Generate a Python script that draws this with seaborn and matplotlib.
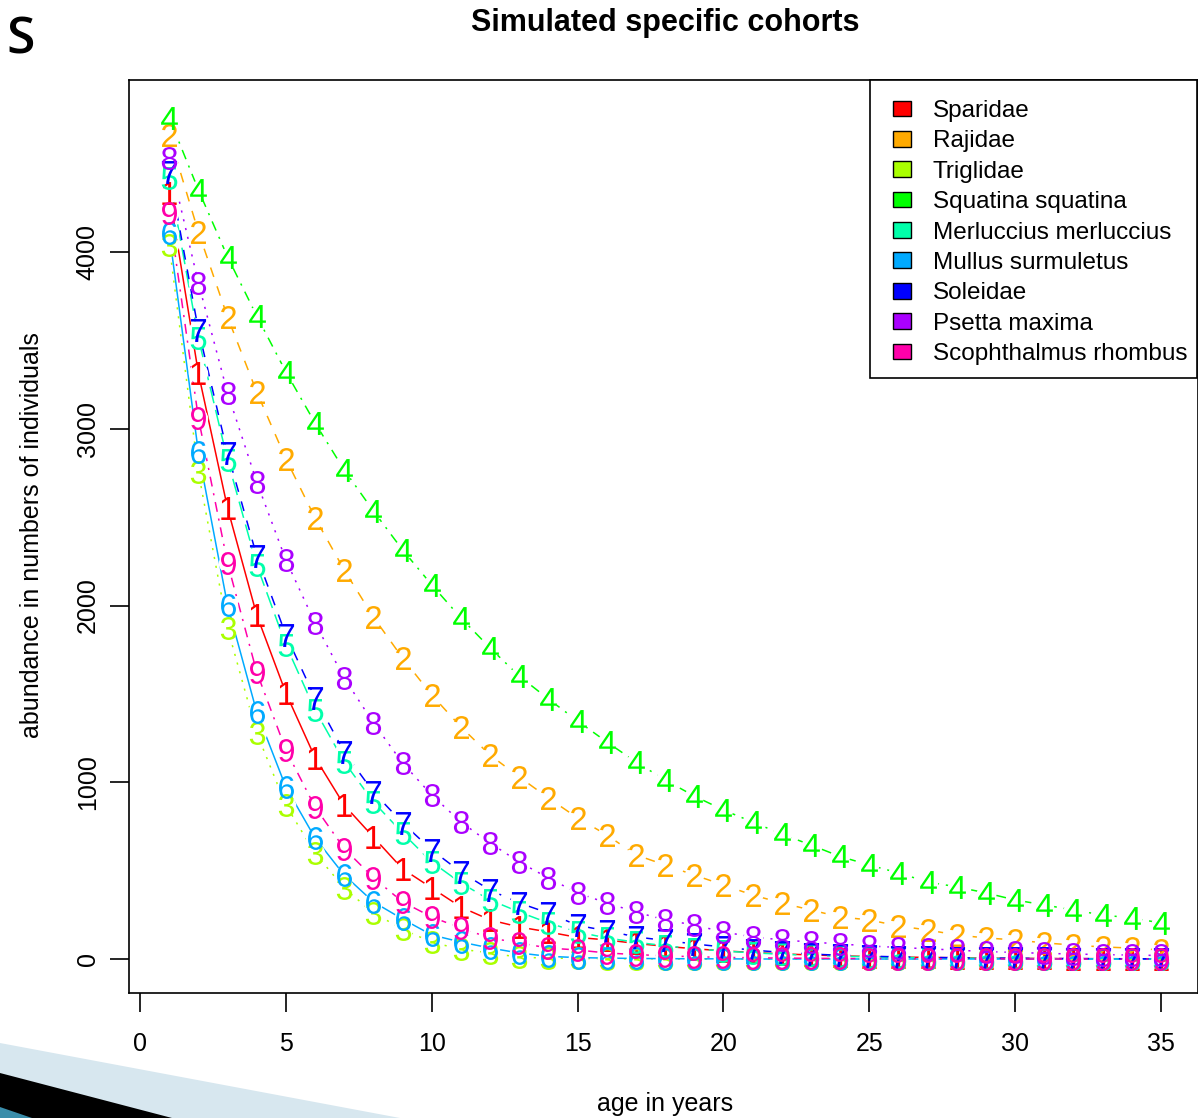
import matplotlib
matplotlib.use("Agg")
import matplotlib.pyplot as plt
import seaborn as sns
import pandas as pd
from matplotlib.patches import Patch, Polygon, Rectangle

# ---------------- data ----------------
ages = list(range(1, 36))
species = ["Sparidae", "Rajidae", "Triglidae", "Squatina squatina",
           "Merluccius merluccius", "Mullus surmuletus", "Soleidae",
           "Psetta maxima", "Scophthalmus rhombus"]
codes = ["1", "2", "3", "4", "5", "6", "7", "8", "9"]

sparidae = [4335, 3316, 2552, 1947, 1505, 1140, 871, 690, 510, 402, 294, 221, 181, 153, 122,
            108, 88, 72, 58, 46, 37, 29, 23, 18, 14, 11, 9, 7, 5, 4, 3, 2, 2, 1, 1]
rajidae = [4663, 4114, 3633, 3209, 2830, 2496, 2201, 1935, 1703, 1494, 1313, 1154, 1030, 911, 798,
           702, 589, 532, 475, 419, 362, 317, 277, 238, 221, 187, 164, 136, 119, 108, 91, 79, 68, 62, 51]
triglidae = [4041, 2756, 1873, 1279, 871, 598, 402, 260, 170, 94, 56, 34, 10, 5, 3, 2, 1, 1,
             0, 0, 0, 0, 0, 0, 0, 0, 0, 0, 0, 0, 0, 0, 0, 0, 0]
squatina = [4760, 4352, 3973, 3639, 3322, 3033, 2767, 2535, 2315, 2117, 1930, 1760, 1601, 1471, 1347,
            1228, 1115, 1013, 922, 843, 775, 707, 645, 580, 532, 487, 436, 408, 374, 334, 306, 277, 249, 232, 204]
merluccius = [4420, 3514, 2824, 2230, 1777, 1409, 1115, 889, 713, 549, 430, 334, 266, 204, 153,
              119, 95, 75, 58, 45, 35, 27, 21, 16, 12, 9, 7, 5, 4, 3, 2, 2, 1, 1, 1]
mullus = [4108, 2869, 2003, 1398, 973, 685, 475, 323, 226, 136, 96, 62, 34, 15, 8, 5, 3, 2, 1, 1,
          0, 0, 0, 0, 0, 0, 0, 0, 0, 0, 0, 0, 0, 0, 0]
soleidae = [4454, 3560, 2864, 2281, 1834, 1477, 1171, 945, 770, 617, 492, 390, 317, 260, 190,
            160, 125, 105, 85, 68, 50, 38, 28, 21, 16, 12, 9, 7, 5, 4, 3, 2, 2, 1, 1]
psetta = [4533, 3826, 3203, 2700, 2258, 1901, 1590, 1336, 1109, 928, 775, 656, 549, 458, 374,
          317, 266, 221, 192, 153, 125, 108, 96, 85, 74, 65, 58, 50, 42, 37, 32, 28, 25, 22, 20]
scophthalmus = [4222, 3062, 2241, 1624, 1183, 860, 625, 460, 323, 238, 175, 119, 91, 62, 51,
                34, 25, 18, 13, 9, 7, 5, 4, 3, 2, 2, 1, 1, 1, 0, 0, 0, 0, 0, 0]

series = [sparidae, rajidae, triglidae, squatina, merluccius, mullus, soleidae, psetta, scophthalmus]
x_ticks = [0, 5, 10, 15, 20, 25, 30, 35]
y_ticks = [0, 1000, 2000, 3000, 4000]

# ---------------- style ----------------
colors = ["#FF0000", "#FFAA00", "#AAFF00", "#00FF00", "#00FFAA",
          "#00AAFF", "#0000FF", "#AA00FF", "#FF00AA"]
lw = 1.1
ltys = ["-", (0, (6.5, 6.5)), (0, (1.4, 4.5)), (0, (1.4, 4.5, 6.5, 4.5)), (0, (11, 4.5))]
msize = 16.5

sns.set_theme(style="ticks")
plt.rcParams["font.family"] = ["Liberation Sans", "DejaVu Sans"]
plt.rcParams["mathtext.fontset"] = "custom"
plt.rcParams["mathtext.rm"] = "Liberation Sans"
plt.rcParams["mathtext.it"] = "Liberation Sans:italic"
plt.rcParams["mathtext.bf"] = "Liberation Sans:bold"
for k in ["text.color", "axes.labelcolor", "xtick.color", "ytick.color", "axes.edgecolor"]:
    plt.rcParams[k] = "black"

W, H = 1198, 1118
fig = plt.figure(figsize=(W / 100, H / 100), dpi=100)
fig.patch.set_facecolor("white")

# decorative slide elements (bottom-left swoosh)
def px(x, y):
    return (x / W, 1 - y / H)

fig.patches.append(Polygon([px(0, 1043), px(400, 1118), px(0, 1118)], closed=True,
                           transform=fig.transFigure, facecolor="#D7E7EF", edgecolor="none", zorder=0))
fig.patches.append(Polygon([px(0, 1073), px(172, 1118), px(0, 1118)], closed=True,
                           transform=fig.transFigure, facecolor="#000000", edgecolor="none", zorder=0))
fig.patches.append(Polygon([px(0, 1107), px(32, 1118), px(0, 1118)], closed=True,
                           transform=fig.transFigure, facecolor="#3A8DAA", edgecolor="none", zorder=0))
fig.text(6 / W, 1 - 41 / H, "S", fontsize=37, family="Open Sans", fontweight="semibold",
         va="center", ha="left", color="black")

ax_left, ax_right, ax_top, ax_bot = 129, 1198, 80, 993
AW, AH = ax_right - ax_left, ax_bot - ax_top
ax = fig.add_axes([ax_left / W, 1 - ax_bot / H, AW / W, AH / H])
ax.set_facecolor("none")

ppu = (1161 - 140) / 35.0
ax.set_xlim((ax_left - 140) / ppu, (ax_right - 140) / ppu)
ypp = (959 - 252) / 4000.0
ax.set_ylim((959 - ax_bot) / ypp, (959 - ax_top) / ypp)

# lines
for i, vals in enumerate(series):
    df = pd.DataFrame({"age": ages, "n": vals})
    sns.lineplot(data=df, x="age", y="n", ax=ax, color=colors[i], linewidth=lw,
                 linestyle=ltys[i % 5], legend=False, zorder=2, estimator=None)
# gaps around points (like R type="b")
for i, vals in enumerate(series):
    df = pd.DataFrame({"age": ages, "n": vals})
    sns.lineplot(data=df, x="age", y="n", ax=ax, color="white", linewidth=0,
                 marker="o", markersize=14, markeredgewidth=0, markerfacecolor="white",
                 legend=False, zorder=3, estimator=None)
# numbered point symbols
for i, vals in enumerate(series):
    df = pd.DataFrame({"age": ages, "n": vals})
    sns.lineplot(data=df, x="age", y="n", ax=ax, color=colors[i], linewidth=0,
                 marker="$" + codes[i] + "$", markersize=msize, markeredgewidth=0,
                 markerfacecolor=colors[i], legend=False, zorder=4, estimator=None)

ax.set_xticks(x_ticks)
ax.set_yticks(y_ticks)
ax.set_xticklabels([str(t) for t in x_ticks], fontsize=18)
ax.set_yticklabels([str(t) for t in y_ticks], fontsize=18, rotation=90, va="center")
ax.tick_params(axis="x", length=14, width=1.2, pad=14, colors="black")
ax.tick_params(axis="y", length=14, width=1.2, pad=7, colors="black")
for s in ax.spines.values():
    s.set_visible(True)
    s.set_linewidth(1.2)
    s.set_color("black")

ax.set_xlabel("age in years", fontsize=18)
ax.set_ylabel("abundance in numbers of individuals", fontsize=18)
ax.xaxis.set_label_coords((665 - ax_left) / AW, -(1104 - ax_bot) / AH)
ax.yaxis.set_label_coords(-(ax_left - 32) / AW, (ax_bot - 535) / AH)
ax.xaxis.label.set_va("center")
ax.yaxis.label.set_va("center")

fig.text(665 / W, 1 - 23 / H, "Simulated specific cohorts", fontsize=22, fontweight="bold",
         ha="center", va="center")

# legend box (R style: asymmetric padding)
ax.add_patch(Rectangle(((870 - ax_left) / AW, (ax_bot - 378) / AH), (1197 - 870) / AW, (378 - 80) / AH,
                       transform=ax.transAxes, facecolor="white", edgecolor="black",
                       linewidth=1.2, zorder=5, clip_on=False))
handles = [Patch(facecolor=c, edgecolor="black", linewidth=1.0) for c in colors]
leg = ax.legend(handles, species, loc="upper left",
                bbox_to_anchor=((893 - ax_left) / AW, (ax_bot - 100) / AH),
                borderaxespad=0, fontsize=17.5, frameon=False,
                handlelength=0.74, handleheight=0.62, handletextpad=0.9,
                labelspacing=0.345, borderpad=0)
leg.set_zorder(6)

fig.savefig("out.png", dpi=100, facecolor="white")
